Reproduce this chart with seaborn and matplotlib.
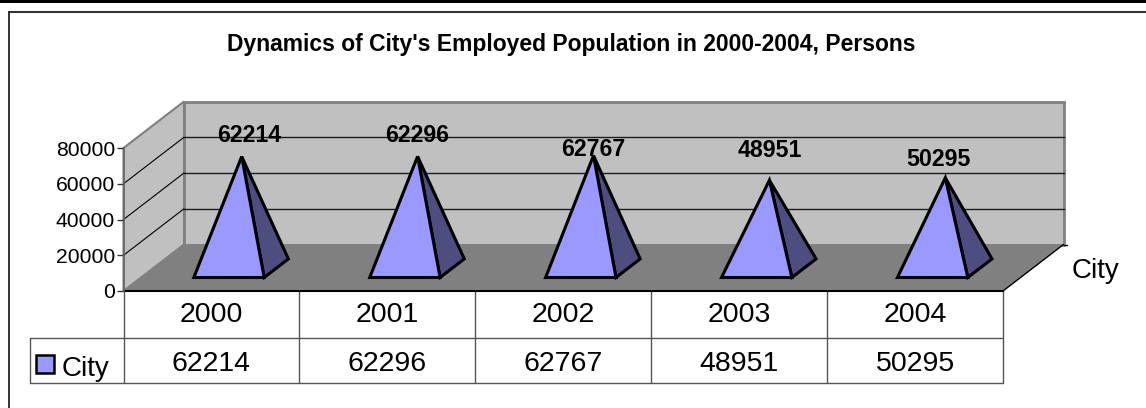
import matplotlib
matplotlib.use("Agg")
import matplotlib.pyplot as plt
import pandas as pd
import seaborn as sns
from matplotlib.patches import Polygon, Rectangle
from matplotlib.transforms import Affine2D, blended_transform_factory

years = ["2000", "2001", "2002", "2003", "2004"]
city = [62214, 62296, 62767, 48951, 50295]
series_name = "City"
title = "Dynamics of City's Employed Population in 2000-2004, Persons"
y_ticks = [0, 20000, 40000, 60000, 80000]
label_dx = [7, 0, 0, 0, -7]
label_dy = [21, 21, 6, 30, 18]

W, H = 1146, 408
sns.set_theme(style="white")
plt.rcParams["font.family"] = ["Liberation Sans", "DejaVu Sans"]

fig = plt.figure(figsize=(W / 100, H / 100), dpi=100, facecolor="white")
L, R, T, B = 123.5, 1003.0, 148.0, 291.0
ax = fig.add_axes([L / W, 1 - B / H, (R - L) / W, (B - T) / H])
ax.patch.set_visible(False)

df = pd.DataFrame({"year": years, "value": city})
sns.barplot(data=df, x="year", y="value", width=0.4, ax=ax, color="#9999FF")
ax.set_xlim(-0.5, 4.5)
ax.set_ylim(0, 80000)

step = (R - L) / 5
DX = 60.5 / step
DY = 46.5 / (B - T) * 80000


def proj(x, v, d):
    """Map category position, value and depth (0-1) to the front-plane data space."""
    return (x + DX * d, v + DY * d)


px = Affine2D().scale(1 / W, -1 / H).translate(0, 1) + fig.transFigure
xpx = blended_transform_factory(ax.transData, px)

# walls and floor
wall_kw = dict(clip_on=False, joinstyle="miter")
xa, xb = -0.5, 4.5
ymax = 80000
ax.add_patch(Polygon([proj(xa, 0, 1), proj(xb, 0, 1), proj(xb, ymax, 1), proj(xa, ymax, 1)],
                     fc="#C0C0C0", ec="#808080", lw=2, zorder=0.5, **wall_kw))
ax.add_patch(Polygon([proj(xa, 0, 0), proj(xa, 0, 1), proj(xa, ymax, 1), proj(xa, ymax, 0)],
                     fc="#C0C0C0", ec="#808080", lw=1.5, zorder=0.5, **wall_kw))
ax.add_patch(Polygon([proj(xa, 0, 0), proj(xb, 0, 0), proj(xb, 0, 1), proj(xa, 0, 1)],
                     fc="#808080", ec="none", lw=0, zorder=0.6, **wall_kw))
for t in y_ticks[1:-1]:
    a, b, c = proj(xa, t, 0), proj(xa, t, 1), proj(xb, t, 1)
    ax.plot([a[0], b[0]], [a[1], b[1]], color="black", lw=0.8, zorder=0.8, clip_on=False)
    ax.plot([b[0], c[0]], [b[1], c[1]], color="black", lw=1.0, alpha=.85, zorder=0.8, clip_on=False)
a, b = proj(xb, 0, 0), proj(xb, 0, 1)
ax.plot([a[0], b[0]], [a[1], b[1]], color="black", lw=1.0, zorder=0.9, clip_on=False)
ax.plot([b[0], b[0] + 0.02], [b[1], b[1]], color="black", lw=1.0, zorder=0.9, clip_on=False)
ax.plot([xa, xb], [0, 0], color="black", lw=1.5, zorder=1.5, clip_on=False)

# pyramids, from the geometry of the seaborn bars
for bar, v, dx, dy in zip(list(ax.patches)[:5], city, label_dx, label_dy):
    bar.set_visible(False)
    x0 = bar.get_x()
    x1 = x0 + bar.get_width()
    xc = (x0 + x1) / 2
    d0, d1 = 0.29, 0.69
    apex = proj(xc, v, 0.5)
    fl, fr, br = proj(x0, 0, d0), proj(x1, 0, d0), proj(x1, 0, d1)
    ax.add_patch(Polygon([fr, br, apex], fc="#4D4D80", ec="black", lw=2.2,
                         joinstyle="miter", zorder=2, clip_on=False))
    ax.add_patch(Polygon([fl, fr, apex], fc="#9999FF", ec="black", lw=2.2,
                         joinstyle="miter", zorder=2.1, clip_on=False))
    ax.annotate(str(v), xy=apex, xytext=(dx * 0.72, dy * 0.72), textcoords="offset points",
                ha="center", va="center", fontsize=16.7, fontweight="bold", color="black",
                zorder=3, annotation_clip=False)

# axes styling
sns.despine(ax=ax, left=False, bottom=True, top=True, right=True)
ax.spines["left"].set_color("#666666")
ax.spines["left"].set_linewidth(1.2)
ax.set_xlabel("")
ax.set_ylabel("")
ax.set_xticks([])
ax.set_yticks(y_ticks)
ax.set_yticklabels([str(t) for t in y_ticks])
ax.tick_params(axis="y", left=True, length=5, width=1, color="#333333", labelsize=15.2, pad=1,
               labelcolor="black")

# data table
line = dict(color="#555555", lw=1.0, clip_on=False, zorder=1)
Y1, Y2 = 338, 383
for i in range(6):
    ax.plot([i - 0.5, i - 0.5], [B, Y2], transform=xpx, **line)
for y in (Y1, Y2):
    fig.add_artist(plt.Line2D([30, R], [y, y], transform=px, color="#555555", lw=1.0))
fig.add_artist(plt.Line2D([30, 30], [Y1, Y2], transform=px, color="#555555", lw=1.0))
for i, (yr, v) in enumerate(zip(years, city)):
    ax.text(i, 315.5, yr, transform=xpx, ha="center", va="center", fontsize=20.5, color="black", clip_on=False)
    ax.text(i, 364, str(v), transform=xpx, ha="center", va="center", fontsize=20.5, color="black", clip_on=False)
fig.add_artist(Rectangle((36, 355), 18, 18, transform=px, fc="#9999FF", ec="black", lw=1.8))
fig.text(62, 369, series_name, transform=px, ha="left", va="center", fontsize=20, color="black")
fig.text(1072, 271, series_name, transform=px, ha="left", va="center", fontsize=20, color="black")

# title and frame
fig.text(571, 45, title, transform=px, ha="center", va="center", fontsize=16.5, fontweight="bold", color="black")
fig.add_artist(Rectangle((0, 0), W, 2.5, transform=px, fc="black", ec="none"))
fig.add_artist(plt.Line2D([9, W], [12, 12], transform=px, color="#333333", lw=1.5))
fig.add_artist(plt.Line2D([9, 9], [12, H], transform=px, color="#222222", lw=1.3))

fig.savefig("out.png", dpi=100, facecolor="white")
